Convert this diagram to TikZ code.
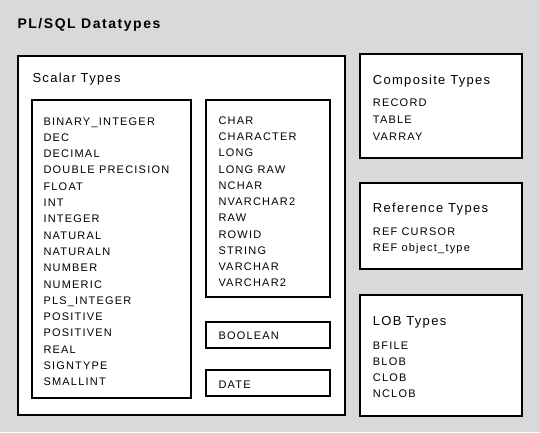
\documentclass[tikz,border=0pt]{standalone}
\usepackage{fontspec}
\setmainfont{Liberation Sans}
\newfontfamily\itemfont{Liberation Sans}[LetterSpace=11]
\newfontfamily\headfont{Liberation Sans}[LetterSpace=10]
\newfontfamily\titlefont{Liberation Sans}[LetterSpace=11]
\usetikzlibrary{fit}
\definecolor{bggray}{HTML}{D9D9D9}
\begin{document}
\begin{tikzpicture}[x=1pt,y=-1pt,
  box/.style={draw=black, line width=2pt, fill=white, inner sep=0pt},
  item/.style={anchor=base west, inner sep=0pt, font=\itemfont\fontsize{11}{13}\selectfont},
  head/.style={anchor=base west, inner sep=0pt, font=\headfont\fontsize{13}{15}\selectfont},
  ttl/.style={anchor=base west, inner sep=0pt, font=\titlefont\bfseries\fontsize{14}{16}\selectfont}]
\fill[bggray] (0,0) rectangle (540,432);
\useasboundingbox (0,0) rectangle (540,432);
\node[ttl] (title) at (17.3,28.3) {PL/SQL Datatypes};
% boxes
\node[box, fit={(18.3,55.5) (344.5,415)}] (scalar) {};
\node[box, fit={(31.5,100) (190.5,397.5)}] (numbox) {};
\node[box, fit={(205.5,100) (329.5,297)}] (charbox) {};
\node[box, fit={(205.5,322) (329.5,348)}] (boolbox) {};
\node[box, fit={(205.5,370) (329.5,395.5)}] (datebox) {};
\node[box, fit={(359.5,54) (521.5,158)}] (compbox) {};
\node[box, fit={(359.5,183) (521.5,269)}] (refbox) {};
\node[box, fit={(359.5,294.5) (521.5,416)}] (lobbox) {};
% headings
\node[head] (scalarh) at (32.3,82.7) {Scalar Types};
\node[head] (comph) at (372.7,84) {Composite Types};
\node[head] (refh) at (372.7,212.7) {Reference Types};
\node[head] (lobh) at (372.7,325) {LOB Types};
% numeric list
\foreach \t [count=\i from 0] in {BINARY\_INTEGER,DEC,DECIMAL,DOUBLE PRECISION,FLOAT,INT,INTEGER,NATURAL,NATURALN,NUMBER,NUMERIC,PLS\_INTEGER,POSITIVE,POSITIVEN,REAL,SIGNTYPE,SMALLINT}
  \node[item] (n\i) at (43.3,{125+16.3*\i}) {\t};
% character list
\foreach \t [count=\i from 0] in {CHAR,CHARACTER,LONG,LONG RAW,NCHAR,NVARCHAR2,RAW,ROWID,STRING,VARCHAR,VARCHAR2}
  \node[item] (c\i) at (218.3,{124.3+16.25*\i}) {\t};
\node[item] (bool) at (218.3,339.3) {BOOLEAN};
\node[item] (date) at (218.3,388.3) {DATE};
% composite
\foreach \t [count=\i from 0] in {RECORD,TABLE,VARRAY}
  \node[item] (k\i) at (372.7,{106.8+16.9*\i}) {\t};
% reference
\node[item] (r0) at (372.7,235) {REF CURSOR};
\node[item] (r1) at (372.7,251.7) {REF object\_type};
% lob
\foreach \t [count=\i from 0] in {BFILE,BLOB,CLOB,NCLOB}
  \node[item] (b\i) at (372.7,{349.3+16.15*\i}) {\t};
\end{tikzpicture}
\end{document}
